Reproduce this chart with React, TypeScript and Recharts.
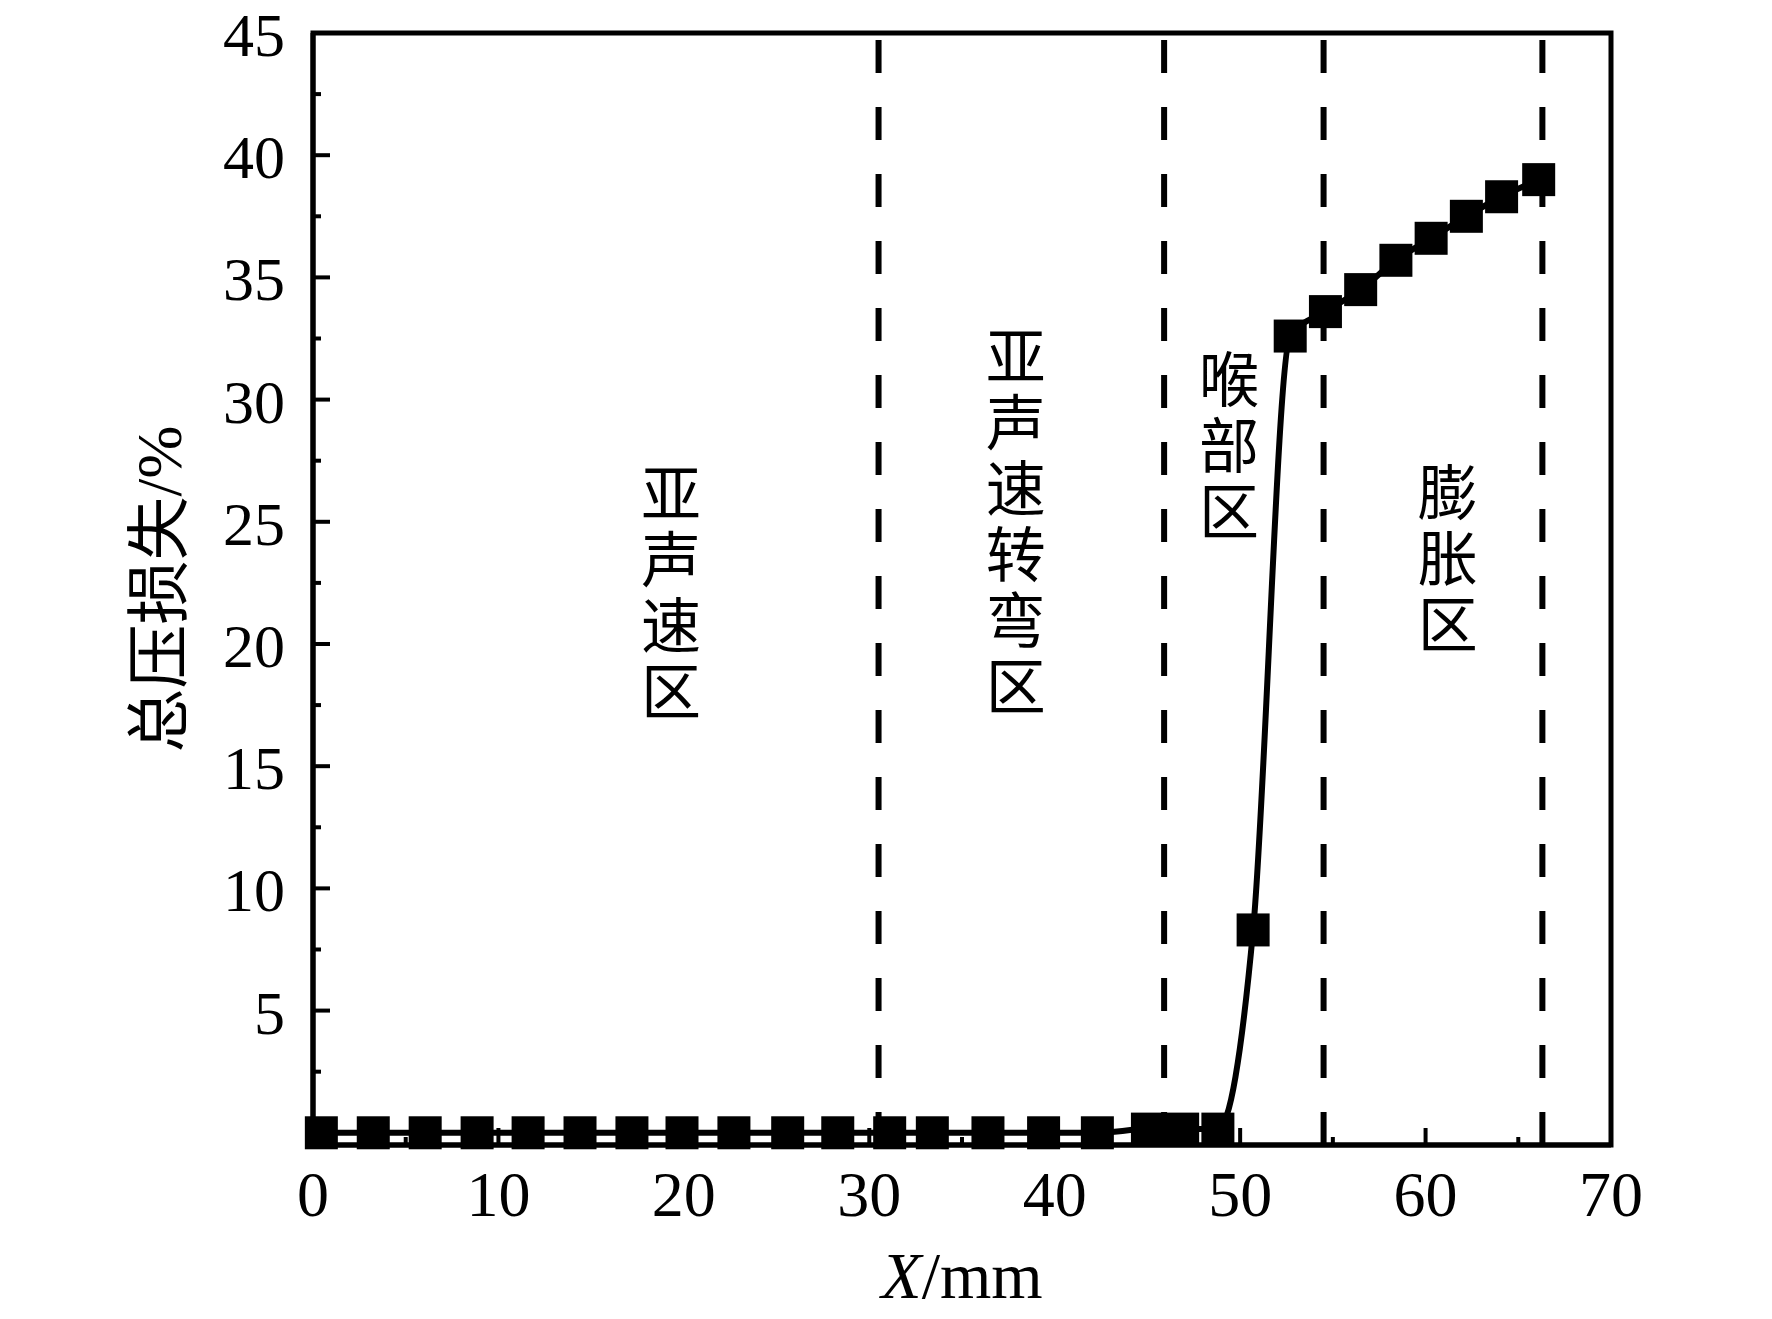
import { ComposedChart, Line, XAxis, YAxis, ReferenceLine, ReferenceArea, ReferenceDot } from "recharts";

// total pressure loss along the nozzle
const xPos = [
  0.45, 3.25, 6.05, 8.85, 11.6, 14.4, 17.2, 19.9, 22.7, 25.6, 28.3, 31.1, 33.4, 36.4, 39.4, 42.3, 45.0, 46.9, 48.8,
  50.7, 52.7, 54.6, 56.5, 58.4, 60.3, 62.2, 64.1, 66.1,
];
const loss = [
  0, 0, 0, 0, 0, 0, 0, 0, 0, 0, 0, 0, 0, 0, 0, 0, 0.15, 0.15, 0.15,
  8.3, 32.6, 33.6, 34.5, 35.7, 36.6, 37.5, 38.3, 39.0,
];

const xTicks = [0, 5, 10, 15, 20, 25, 30, 35, 40, 45, 50, 55, 60, 65, 70];
const xLabels = [0, 10, 20, 30, 40, 50, 60, 70];
const yTicks = [2.5, 5, 7.5, 10, 12.5, 15, 17.5, 20, 22.5, 25, 27.5, 30, 32.5, 35, 37.5, 40, 42.5, 45];
const yLabels = [5, 10, 15, 20, 25, 30, 35, 40, 45];

// region boundaries (dashed lines)
const boundaries = [30.5, 45.9, 54.5, 66.3];

// vertical region names, placed at column centre
const regions = [
  { text: "亚声速区", x: 19.3, y: 22.0 },
  { text: "亚声速转弯区", x: 37.9, y: 24.9 },
  { text: "喉部区", x: 49.4, y: 28.0 },
  { text: "膨胀区", x: 61.2, y: 23.4 },
];

const data = xPos.map((x, i) => ({ x, loss: loss[i] }));

const SERIF = "'Liberation Serif', 'Times New Roman', serif";
const CJK = "'Liberation Serif', 'Noto Sans CJK SC', serif";

function XTick(props: any) {
  const { x, y, payload } = props;
  const major = xLabels.includes(payload.value);
  return (
    <g>
      <line x1={x} x2={x} y1={y} y2={y - (major ? 17 : 8)} stroke="#000" strokeWidth={4} />
      {major && (
        <text x={x} y={y + 71} textAnchor="middle" fontFamily={SERIF} fontSize={64} fill="#000">
          {payload.value}
        </text>
      )}
    </g>
  );
}

function YTick(props: any) {
  const { x, y, payload } = props;
  const major = yLabels.includes(payload.value);
  return (
    <g>
      <line x1={x} x2={x + (major ? 17 : 8)} y1={y} y2={y} stroke="#000" strokeWidth={4} />
      {major && (
        <text x={x - 28} y={y + 23} textAnchor="end" fontFamily={SERIF} fontSize={62} fill="#000">
          {payload.value}
        </text>
      )}
    </g>
  );
}

function Square(props: any) {
  const { cx, cy, index } = props;
  return <rect key={index} x={cx - 16.5} y={cy - 16.5} width={33} height={33} fill="#000" />;
}

function VerticalText({ cx, cy, text }: { cx: number; cy: number; text: string }) {
  return (
    <text
      x={cx}
      y={cy}
      textAnchor="middle"
      fontFamily="'Noto Sans CJK SC', sans-serif"
      fontSize={60}
      fill="#000"
      style={{ writingMode: "vertical-rl", letterSpacing: 6 }}
    >
      {text}
    </text>
  );
}

export default function App() {
  return (
    <div style={{ position: "absolute", left: 0, top: 0, background: "#fff" }}>
      <ComposedChart width={1772} height={1319} data={data} margin={{ top: 33, right: 161, bottom: 0, left: 0 }}>
        <XAxis
          type="number"
          dataKey="x"
          domain={[0, 70]}
          ticks={xTicks}
          interval={0}
          height={174}
          tickSize={0}
          tickMargin={0}
          tickLine={false}
          tick={<XTick />}
          axisLine={{ stroke: "#000", strokeWidth: 5 }}
          label={{
            content: (p: any) => {
              const vb = p.viewBox;
              return (
                <text x={vb.x + vb.width / 2} y={vb.y + 153} textAnchor="middle" fontFamily={SERIF} fontSize={66} fill="#000">
                  <tspan fontStyle="italic">X</tspan>
                  <tspan>/mm</tspan>
                </text>
              );
            },
          }}
        />
        <YAxis
          type="number"
          domain={[-0.5, 45]}
          ticks={yTicks}
          interval={0}
          width={313}
          tickSize={0}
          tickMargin={0}
          tickLine={false}
          tick={<YTick />}
          axisLine={{ stroke: "#000", strokeWidth: 5 }}
          label={{
            content: (p: any) => {
              const vb = p.viewBox;
              const cx = vb.x + 159;
              const cy = vb.y + vb.height / 2;
              return (
                <text
                  x={cx}
                  y={cy}
                  transform={`rotate(-90 ${cx} ${cy})`}
                  textAnchor="middle"
                  dominantBaseline="central"
                  fontFamily={CJK}
                  fontSize={64}
                  fill="#000"
                >
                  总压损失/%
                </text>
              );
            },
          }}
        />
        {boundaries.map((b) => (
          <ReferenceLine key={b} x={b} stroke="#000" strokeWidth={6} strokeDasharray="33 34" />
        ))}
        {regions.map((r) => (
          <ReferenceDot
            key={r.text}
            x={r.x}
            y={r.y}
            r={0}
            shape={(p: any) => <VerticalText cx={p.cx} cy={p.cy} text={r.text} />}
          />
        ))}
        <Line
          type="monotone"
          dataKey="loss"
          stroke="#000"
          strokeWidth={6}
          dot={Square}
          activeDot={false}
          isAnimationActive={false}
        />
        <ReferenceArea x1={0} x2={70} y1={-0.5} y2={45} fill="none" stroke="#000" strokeWidth={5} />
      </ComposedChart>
    </div>
  );
}
